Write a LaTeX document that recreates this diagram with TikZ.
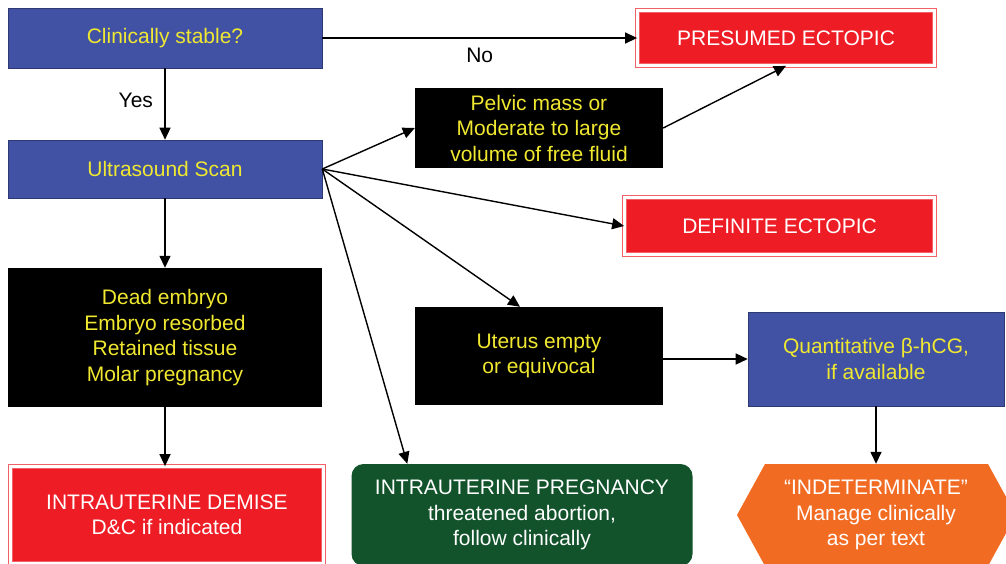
\documentclass[tikz,border=0pt]{standalone}
\usepackage{fontspec}
\setmainfont{Liberation Sans}
\usetikzlibrary{arrows.meta}

\definecolor{usblue}{HTML}{4152A4}
\definecolor{txtyellow}{HTML}{F0E830}
\definecolor{ectred}{HTML}{EE1C25}
\definecolor{ipgreen}{HTML}{12532B}
\definecolor{hexorange}{HTML}{F26B22}

\tikzset{
  bluebox/.style={fill=usblue, draw=usblue!70!black, line width=0.6pt, text=txtyellow, align=center, inner sep=0pt},
  blackbox/.style={fill=black, text=txtyellow, align=center, inner sep=0pt},
  redbox/.style={fill=ectred, draw=ectred!70, double=white, double distance=3.5pt, line width=0.8pt, text=white, align=center, inner sep=0pt},
  greenbox/.style={fill=ipgreen, rounded corners=12pt, text=white, align=center, inner sep=0pt},
  arr/.style={line width=1.4pt, -{Triangle[length=12pt,width=11pt]}}
}

\begin{document}
\begin{tikzpicture}[x=1pt, y=-1pt, every node/.style={font=\fontsize{21}{25.5}\selectfont}]
    \useasboundingbox (0,0) rectangle (1006,563);

    % Left column
    \node[bluebox, minimum width=314, minimum height=60] (clin) at (165,38) {Clinically stable?};
    \node[bluebox, minimum width=314, minimum height=58] (us) at (165,169) {Ultrasound Scan};
    \node[blackbox, minimum width=314, minimum height=139] (dead) at (165,337.5)
        {Dead embryo\\Embryo resorbed\\Retained tissue\\Molar pregnancy};
    \node[redbox, minimum width=313, minimum height=97] (demise) at (167,515)
        {INTRAUTERINE DEMISE\\D\&C if indicated};

    % Middle and right
    \node[redbox, minimum width=297, minimum height=55] (presumed) at (786,38) {PRESUMED ECTOPIC};
    \node[blackbox, minimum width=248, minimum height=80] (pelvic) at (539,128)
        {Pelvic mass or\\Moderate to large\\volume of free fluid};
    \node[redbox, minimum width=310, minimum height=57] (definite) at (779.5,226) {DEFINITE ECTOPIC};
    \node[blackbox, minimum width=248, minimum height=98] (uterus) at (539,356)
        {Uterus empty\\or equivocal\vphantom{y}};
    \node[bluebox, minimum width=256, minimum height=94] (quant) at (876,359)
        {Quantitative β-hCG,\\if available};
    \node[greenbox, minimum width=341, minimum height=102] (ipreg) at (522,515)
        {INTRAUTERINE PREGNANCY\\threatened abortion,\\follow clinically};

    % Hexagon
    \fill[hexorange] (737,515) -- (765,464) -- (988,464) -- (1016,515) -- (988,566) -- (765,566) -- cycle;
    \node[text=white, align=center, minimum height=102, inner sep=0pt] (indet) at (876,515)
        {“INDETERMINATE”\\Manage clinically\\as per text};

    % Arrows
    \draw[arr] (clin.east) -- (presumed.west) node[midway, below=6pt] {No};
    \draw[arr] (clin) -- (us) node[pos=0.45, left=8pt] {Yes};
    \draw[arr] (us) -- (dead);
    \draw[arr] (dead.south) -- (dead.south |- demise.north);
    \draw[arr] (us.east) -- (pelvic.west);
    \draw[arr] (us.east) -- (definite.west);
    \draw[arr] (us.east) -- ([xshift=-19pt]uterus.north);
    \draw[arr] (us.east) -- ([xshift=56pt]ipreg.north west);
    \draw[arr] (pelvic.east) -- (presumed.south);
    \draw[arr] (uterus.east |- quant.west) -- (quant.west);
    \draw[arr] (quant) -- (indet);
\end{tikzpicture}
\end{document}
